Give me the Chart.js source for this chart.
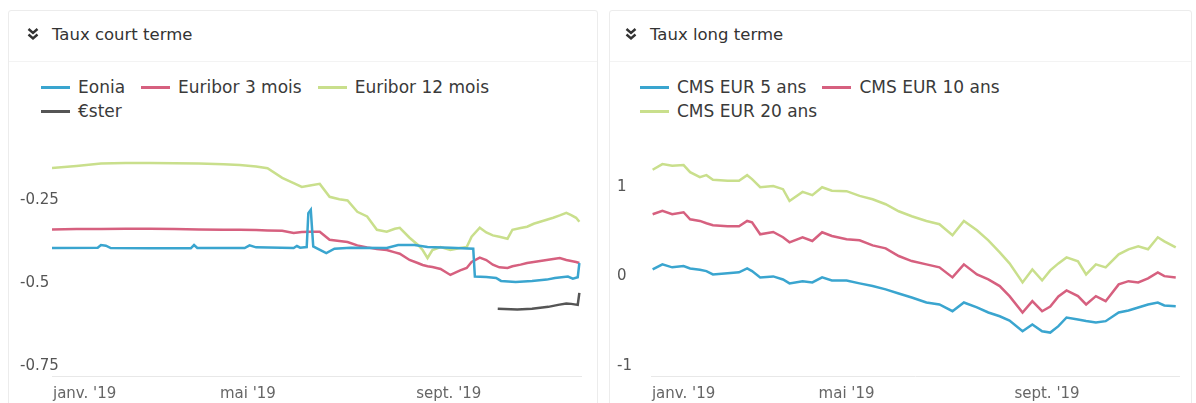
<!DOCTYPE html>
<html lang="fr">
<head>
<meta charset="utf-8">
<title>Taux court terme / Taux long terme</title>
<script src="https://cdn.jsdelivr.net/npm/chart.js@4.4.1/dist/chart.umd.min.js"></script>
<style>
  body { margin: 0; background: #fff; font-family: "DejaVu Sans", sans-serif; color: #333; }
  .card { position: absolute; top: 10px; height: 400px; border: 1px solid #ececec; border-radius: 3px; }
  .head { position: absolute; left: 0; right: 0; top: 0; height: 50px; border-bottom: 1px solid #f3f3f3; }
  .title { position: absolute; font-size: 16.5px; line-height: 22px; top: 24px; }
  .chev { position: absolute; top: 27px; }
  .legend { position: absolute; top: 75px; width: 480px; display: flex; flex-wrap: wrap; font-size: 17px; line-height: 24px; color: #3a3a3a; }
  .legend span.item { display: flex; align-items: center; margin-right: 16px; white-space: nowrap; }
  .legend i { display: inline-block; width: 29px; height: 3px; margin-right: 8px; }
  canvas { position: absolute; }
</style>
</head>
<body>
<div class="card" style="left:8px;width:588px"><div class="head"></div></div>
<div class="card" style="left:609px;width:581px"><div class="head"></div></div>

<svg class="chev" style="left:26px" width="14" height="14" viewBox="0 0 14 14"><path d="M2.5 2 L7 6 L11.5 2 M2.5 7.5 L7 11.5 L11.5 7.5" stroke="#333" stroke-width="2.4" fill="none"/></svg>
<div class="title" style="left:52px">Taux court terme</div>
<svg class="chev" style="left:624px" width="14" height="14" viewBox="0 0 14 14"><path d="M2.5 2 L7 6 L11.5 2 M2.5 7.5 L7 11.5 L11.5 7.5" stroke="#333" stroke-width="2.4" fill="none"/></svg>
<div class="title" style="left:650px">Taux long terme</div>

<div class="legend" id="legendShort" style="left:41px"></div>
<div class="legend" id="legendLong" style="left:640px"></div>

<canvas id="short" width="572" height="263" style="left:20px;top:140px"></canvas>
<canvas id="long" width="573" height="263" style="left:617px;top:140px"></canvas>

<script>
// days counted from 1 Jan 2019
const xTickDays = [20, 120, 243]; // janv. label sits right of its tick, like the original
const xTickLabels = ["janv. '19", "mai '19", "sept. '19"];
const shortTicks = [-0.75, -0.5, -0.25];
const longTicks = [-1, 0, 1];

const shortDays = [0, 15, 30, 45, 60, 75, 90, 105, 115, 125, 132, 141, 148, 153, 158, 164,
  170, 176, 181, 187, 193, 199, 205, 210, 213, 219, 224, 227, 230, 233, 238, 244,
  250, 254, 257, 262, 266, 270, 274, 279, 282, 287, 291, 295, 299, 303, 307, 311,
  315, 318, 321, 323];
const euribor3m = [-0.339, -0.338, -0.338, -0.337, -0.337, -0.338, -0.339, -0.340,
  -0.340, -0.341, -0.342, -0.343, -0.350, -0.347, -0.346, -0.346,
  -0.370, -0.374, -0.377, -0.387, -0.393, -0.398, -0.401, -0.408,
  -0.412, -0.431, -0.440, -0.446, -0.450, -0.452, -0.458, -0.476,
  -0.462, -0.455, -0.437, -0.424, -0.431, -0.445, -0.453, -0.455,
  -0.450, -0.445, -0.440, -0.437, -0.434, -0.431, -0.428, -0.425,
  -0.431, -0.434, -0.437, -0.440];
const euribor12m = [-0.154, -0.148, -0.141, -0.139, -0.139, -0.140, -0.141, -0.143,
  -0.145, -0.150, -0.155, -0.184, -0.200, -0.211, -0.207, -0.202,
  -0.241, -0.248, -0.252, -0.286, -0.300, -0.340, -0.346, -0.337,
  -0.334, -0.364, -0.385, -0.401, -0.425, -0.401, -0.392, -0.401,
  -0.395, -0.392, -0.361, -0.334, -0.348, -0.357, -0.361, -0.367,
  -0.340, -0.335, -0.331, -0.322, -0.316, -0.310, -0.304, -0.297,
  -0.289, -0.296, -0.304, -0.316];

const eoniaDays = [0, 28, 30, 33, 36, 60, 85, 87, 89, 118, 121, 125, 148, 150, 152,
  156, 157, 158.5, 160, 162, 168, 173, 183, 205, 212, 222, 230, 244, 258, 259,
  266, 272, 275, 284, 294, 303, 308, 316, 319, 322, 323];
const eonia = [-0.395, -0.394, -0.386, -0.388, -0.395, -0.396, -0.396, -0.386, -0.395,
  -0.395, -0.387, -0.393, -0.395, -0.389, -0.394,
  -0.392, -0.290, -0.280, -0.390, -0.395, -0.410, -0.397, -0.394,
  -0.395, -0.386, -0.386, -0.392, -0.394, -0.397, -0.481,
  -0.482, -0.485, -0.494, -0.497, -0.494, -0.490, -0.485, -0.481,
  -0.487, -0.483, -0.440];

const esterDays = [273, 285, 294, 304, 310, 315, 318, 322, 323];
const ester = [-0.578, -0.580, -0.578, -0.572, -0.566, -0.562, -0.563, -0.566, -0.530];

const longDays = [1, 7, 13, 20, 24, 30, 34, 38, 47, 54, 59, 62, 67, 75, 81, 85,
  93, 99, 105, 111, 120, 128, 136, 144, 152, 160, 169, 177, 185, 192, 200, 207,
  214, 220, 228, 234, 240, 245, 250, 255, 262, 267, 273, 279, 287, 293, 299, 305,
  311, 315, 322];
const cms5 = [0.078, 0.134, 0.101, 0.115, 0.089, 0.073, 0.059, 0.022,
  0.034, 0.045, 0.089, 0.059, -0.011, 0.000, -0.034, -0.078,
  -0.053, -0.067, -0.011, -0.045, -0.045, -0.078, -0.108, -0.145,
  -0.190, -0.235, -0.291, -0.313, -0.388, -0.291, -0.346, -0.402,
  -0.444, -0.492, -0.611, -0.536, -0.611, -0.626, -0.555, -0.458,
  -0.480, -0.497, -0.514, -0.499, -0.402, -0.380, -0.346, -0.313,
  -0.291, -0.324, -0.332];
const cms10 = [0.693, 0.730, 0.693, 0.715, 0.637, 0.618, 0.592, 0.570,
  0.559, 0.559, 0.618, 0.603, 0.469, 0.495, 0.436, 0.380,
  0.436, 0.394, 0.492, 0.450, 0.413, 0.402, 0.346, 0.313,
  0.227, 0.171, 0.134, 0.101, -0.011, 0.134, 0.022, -0.034,
  -0.108, -0.220, -0.402, -0.276, -0.388, -0.335, -0.223, -0.156,
  -0.220, -0.313, -0.220, -0.276, -0.089, -0.053, -0.067, -0.022,
  0.045, 0.003, -0.011];
const cms20 = [1.188, 1.251, 1.232, 1.240, 1.162, 1.106, 1.128, 1.076,
  1.065, 1.065, 1.128, 1.084, 0.994, 1.006, 0.972, 0.841,
  0.942, 0.905, 0.994, 0.955, 0.950, 0.897, 0.860, 0.804,
  0.726, 0.670, 0.618, 0.581, 0.458, 0.618, 0.514, 0.402,
  0.268, 0.145, -0.067, 0.078, -0.045, 0.067, 0.145, 0.212,
  0.168, 0.022, 0.134, 0.101, 0.246, 0.302, 0.335, 0.302,
  0.436, 0.391, 0.324];

const BLUE = '#3aa5cf', RED = '#d6607f', GREEN = '#c9df8c', GREY = '#555';

Chart.defaults.font.family = '"DejaVu Sans", sans-serif';

const pts = (days, vals) => days.map((d, i) => ({ x: d, y: vals[i] }));
const line = (label, days, vals, color) => ({
  label, data: pts(days, vals), borderColor: color, backgroundColor: color,
  borderWidth: 2.5, pointRadius: 0, tension: 0, fill: false
});

function makeChart(id, datasets, ticks, yMin, yMax, yWidth) {
  return new Chart(document.getElementById(id), {
    type: 'line',
    data: { datasets },
    options: {
      responsive: false,
      animation: false,
      layout: { padding: { left: 0, right: 11, top: 0, bottom: 0 } },
      plugins: { legend: { display: false }, tooltip: { enabled: false } },
      scales: {
        x: {
          type: 'linear', min: 0, max: 324,
          grid: { display: false },
          border: { display: true, color: '#e8e8e8' },
          afterBuildTicks: s => { s.ticks = xTickDays.map(v => ({ value: v })); },
          afterFit: s => { s.height = 27; s.paddingLeft = 0; s.paddingRight = 0; },
          ticks: {
            autoSkip: false, maxRotation: 0, padding: 1,
            color: '#666', font: { size: 15 },
            callback: (v, i) => xTickLabels[i]
          }
        },
        y: {
          min: yMin, max: yMax,
          grid: { display: false },
          border: { display: false },
          afterBuildTicks: s => { s.ticks = ticks.map(v => ({ value: v })); },
          afterFit: s => { s.width = yWidth; s.paddingTop = 0; s.paddingBottom = 0; },
          // labels start at the card's left margin and run over the plot edge
          ticks: { mirror: true, padding: -yWidth, color: '#555', font: { size: 15 },
            callback: v => String(v) }
        }
      }
    }
  });
}

function makeLegend(id, chart) {
  const box = document.getElementById(id);
  chart.data.datasets.forEach(ds => {
    const item = document.createElement('span');
    item.className = 'item';
    const sw = document.createElement('i');
    sw.style.background = ds.borderColor;
    item.appendChild(sw);
    item.appendChild(document.createTextNode(ds.label));
    box.appendChild(item);
  });
}

const shortChart = makeChart('short', [
  line('Eonia', eoniaDays, eonia, BLUE),
  line('Euribor 3 mois', shortDays, euribor3m, RED),
  line('Euribor 12 mois', shortDays, euribor12m, GREEN),
  line('€ster', esterDays, ester, GREY)
], shortTicks, -0.78, -0.07, 32);

const longChart = makeChart('long', [
  line('CMS EUR 5 ans', longDays, cms5, BLUE),
  line('CMS EUR 10 ans', longDays, cms10, RED),
  line('CMS EUR 20 ans', longDays, cms20, GREEN)
], longTicks, -1.11, 1.52, 34);

makeLegend('legendShort', shortChart);
makeLegend('legendLong', longChart);
</script>
</body>
</html>
